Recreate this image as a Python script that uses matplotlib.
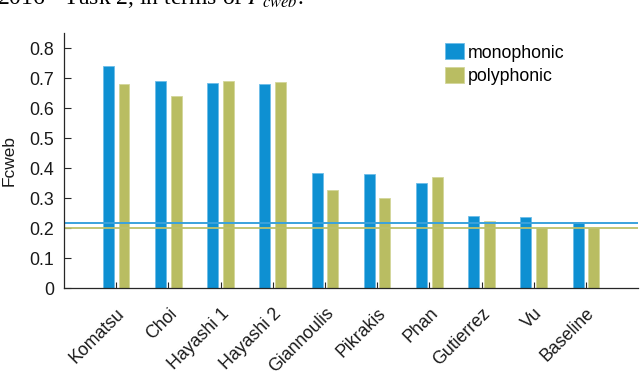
import matplotlib
matplotlib.use("Agg")
import matplotlib.pyplot as plt
import numpy as np
from matplotlib.patches import Patch

categories = ["Komatsu", "Choi", "Hayashi 1", "Hayashi 2", "Giannoulis",
              "Pikrakis", "Phan", "Gutierrez", "Vu", "Baseline"]
monophonic = [0.739, 0.690, 0.683, 0.681, 0.385, 0.379, 0.350, 0.239, 0.237, 0.216]
polyphonic = [0.680, 0.640, 0.689, 0.686, 0.328, 0.299, 0.370, 0.225, 0.201, 0.200]
yticks = [0, 0.1, 0.2, 0.3, 0.4, 0.5, 0.6, 0.7, 0.8]

blue = "#0e90d2"
green = "#b9bd62"
axc = "#262626"

plt.rcParams["font.family"] = ["Liberation Sans", "DejaVu Sans"]
plt.rcParams["mathtext.fontset"] = "stix"

fig = plt.figure(figsize=(6.4, 3.71), dpi=100)
ax = fig.add_axes([0.1, 0.223, 0.897, 0.688])

x = np.arange(1, len(categories) + 1)
w = 0.21
off = 0.15
ax.bar(x - off, monophonic, width=w, color=blue, edgecolor="#6dbde8", linewidth=0.6, zorder=2)
ax.bar(x + off, polyphonic, width=w, color=green, edgecolor="#d3d69a", linewidth=0.6, zorder=2)

ax.axhline(monophonic[-1], color="#3aa2dd", lw=1.4, zorder=3)
ax.axhline(polyphonic[-1], color="#bcc06a", lw=1.3, zorder=3)

ax.set_xlim(0, 11)
ax.set_ylim(0, 0.85)
ax.set_yticks(yticks)
ax.set_yticklabels(["0" if v == 0 else f"{v:.1f}" for v in yticks])
ax.set_xticks(x)
ax.set_xticklabels(categories, rotation=45, ha="right", va="top",
                   rotation_mode="anchor")
ax.tick_params(axis="both", direction="in", colors=axc, labelcolor="#1a1a1a",
               labelsize=12.8, width=0.8)
ax.tick_params(axis="y", length=5, pad=7)
ax.tick_params(axis="x", length=4, pad=12)
for s in ["top", "right"]:
    ax.spines[s].set_visible(False)
for s in ["left", "bottom"]:
    ax.spines[s].set_color(axc)
    ax.spines[s].set_linewidth(0.9)
    ax.spines[s].set_zorder(4)

ax.set_ylabel("Fcweb", fontsize=12.5, color="#1a1a1a", labelpad=9)

handles = [Patch(facecolor=blue, edgecolor="#6dbde8", lw=0.6),
           Patch(facecolor=green, edgecolor="#d3d69a", lw=0.6)]
leg = ax.legend(handles, ["monophonic", "polyphonic"], loc="upper left",
                bbox_to_anchor=(0.655, 0.98), frameon=False, fontsize=12.8,
                handlelength=1.05, handleheight=1.0, handletextpad=0.2,
                labelspacing=0.33, borderaxespad=0.0, borderpad=0.3)

fig.text(-0.005, 0.990, r"2016 - Task 2, in terms of $F_{cweb}$.",
         fontsize=17, family="Liberation Serif", va="baseline", ha="left")

fig.savefig("out.png", dpi=100)
